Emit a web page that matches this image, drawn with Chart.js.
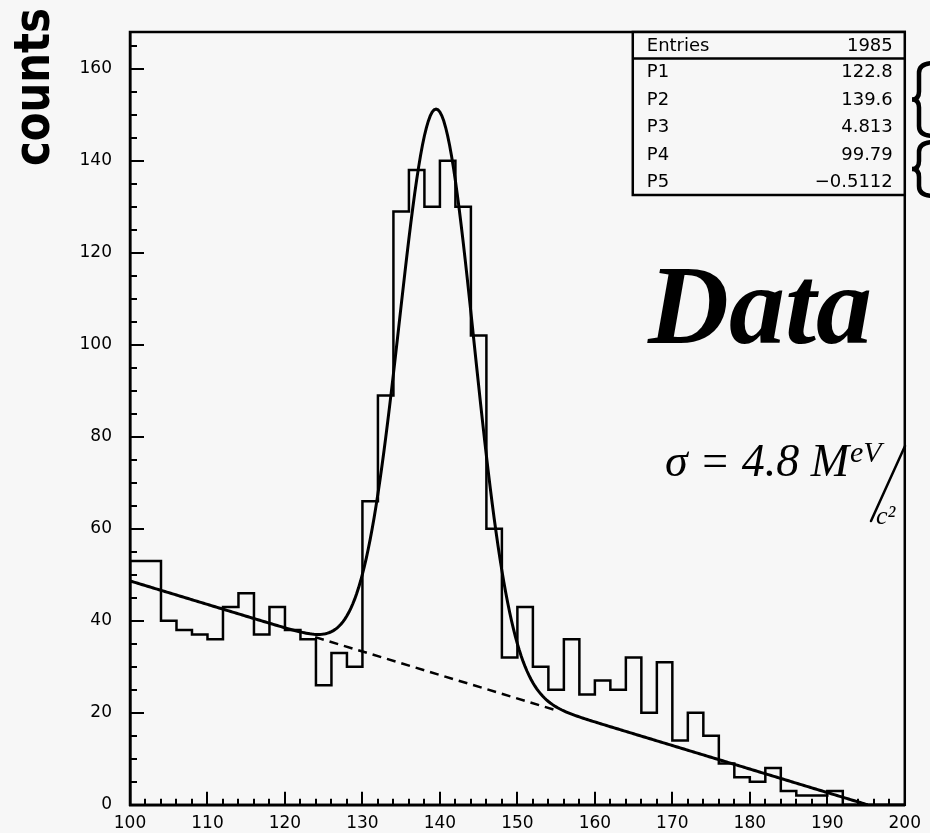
<!DOCTYPE html>
<html>
<head>
<meta charset="utf-8">
<script src="https://cdn.jsdelivr.net/npm/chart.js@4.4.1/dist/chart.umd.min.js"></script>
<style>
  html, body { margin: 0; padding: 0; background: #f7f7f7; }
  canvas { display: block; }
</style>
</head>
<body>
<canvas id="c" width="930" height="833"></canvas>
<script>
// Histogram: lower bin edges (2 units wide) and counts per bin
const binEdges = [100, 102, 104, 106, 108, 110, 112, 114, 116, 118,
                  120, 122, 124, 126, 128, 130, 132, 134, 136, 138,
                  140, 142, 144, 146, 148, 150, 152, 154, 156, 158,
                  160, 162, 164, 166, 168, 170, 172, 174, 176, 178,
                  180, 182, 184, 186, 188, 190, 192, 194, 196, 198];
const binCounts = [53, 53, 40, 38, 37, 36, 43, 46, 37, 43,
                   38, 36, 26, 33, 30, 66, 89, 129, 138, 130,
                   140, 130, 102, 60, 32, 43, 30, 25, 36, 24,
                   27, 25, 32, 20, 31, 14, 20, 15, 9, 6,
                   5, 8, 3, 2, 2, 3, 0, 0, 0, 0];
const histUpperEdge = 200;

// Fit: Gaussian (P1 amplitude, P2 mean, P3 sigma) + linear background (P4 + P5*x)
const fitNames = ['P1', 'P2', 'P3', 'P4', 'P5'];
const fitParams = [122.8, 139.6, 4.813, 99.79, -0.5112];
// range over which the background alone is drawn dashed
const bgDashedRange = [123.9, 155.3];

// Axis tick labels
const xTickValues = [100, 110, 120, 130, 140, 150, 160, 170, 180, 190, 200];
const yTickValues = [0, 20, 40, 60, 80, 100, 120, 140, 160];

// ---- build datasets ----
// each point holds the bin's lower edge; the step is drawn horizontally up to the next edge
const histPoints = [{ x: binEdges[0], y: 0 }];
binEdges.forEach((e, i) => {
  const next = i + 1 < binEdges.length ? binEdges[i + 1] : histUpperEdge;
  histPoints.push({ x: next, y: binCounts[i] });
});

const [p1, p2, p3, p4, p5] = fitParams;
const background = x => p4 + p5 * x;
const fitFunc = x => p1 * Math.exp(-0.5 * Math.pow((x - p2) / p3, 2)) + background(x);
const bgZero = -p4 / p5;

const fitPoints = [];
for (let x = 100; x < bgZero; x += 0.25) fitPoints.push({ x: x, y: fitFunc(x) });
fitPoints.push({ x: bgZero, y: Math.max(0, fitFunc(bgZero)) });

const bgPoints = bgDashedRange.map(x => ({ x: x, y: background(x) }));

const entries = binCounts.reduce((a, b) => a + b, 0);
const statNames = ['Entries'].concat(fitNames);
const statValues = [String(entries)].concat(fitParams.map(v => String(v).replace('-', '\u2212')));

const TICK_FONT = { family: "'DejaVu Sans', sans-serif", size: 17 };

// Frame, inward ticks, statistics box and hand annotations
const decor = {
  id: 'decor',
  afterDraw(chart) {
    const { ctx, chartArea: a, scales: { x, y } } = chart;
    ctx.save();
    ctx.strokeStyle = '#000';
    ctx.fillStyle = '#000';

    // frame
    ctx.lineWidth = 2.5;
    ctx.strokeRect(a.left, a.top, a.right - a.left, a.bottom - a.top);

    // inward ticks
    ctx.lineWidth = 2;
    ctx.beginPath();
    for (let v = 100; v <= 200; v += 2) {
      const px = Math.round(x.getPixelForValue(v));
      const len = v % 10 === 0 ? 13 : 6;
      ctx.moveTo(px, a.bottom);
      ctx.lineTo(px, a.bottom - len);
    }
    for (let v = 0; v <= 165; v += 5) {
      const py = Math.round(y.getPixelForValue(v));
      const len = v % 20 === 0 ? 14 : 7;
      ctx.moveTo(a.left, py);
      ctx.lineTo(a.left + len, py);
    }
    ctx.stroke();

    // statistics box
    const bx = a.right - 272, by = a.top, bw = 272, rowH = 27.4;
    const bh = 26 + rowH * 5;
    ctx.fillStyle = '#f7f7f7';
    ctx.fillRect(bx, by, bw, bh);
    ctx.fillStyle = '#000';
    ctx.lineWidth = 2.5;
    ctx.strokeRect(bx, by, bw, bh);
    ctx.beginPath();
    ctx.moveTo(bx, by + 26.5);
    ctx.lineTo(bx + bw, by + 26.5);
    ctx.stroke();
    ctx.font = "18px 'DejaVu Sans', sans-serif";
    ctx.textBaseline = 'middle';
    statNames.forEach((n, i) => {
      const cy = i === 0 ? by + 14 : by + 26 + rowH * (i - 0.5) + 1;
      ctx.textAlign = 'left';
      ctx.fillText(n, bx + 14, cy);
      ctx.textAlign = 'right';
      ctx.fillText(statValues[i], bx + bw - 12, cy);
    });

    // braces beside the box
    ctx.lineWidth = 4.5;
    ctx.lineCap = 'round';
    const brace = (top, bottom) => {
      const mid = (top + bottom) / 2;
      ctx.beginPath();
      ctx.moveTo(934, top);
      ctx.quadraticCurveTo(919, top, 919, top + 10);
      ctx.lineTo(919, mid - 8);
      ctx.quadraticCurveTo(919, mid, 912, mid);
      ctx.quadraticCurveTo(919, mid, 919, mid + 8);
      ctx.lineTo(919, bottom - 10);
      ctx.quadraticCurveTo(919, bottom, 934, bottom);
      ctx.stroke();
    };
    brace(63, 136);
    brace(142, 196);

    // y axis title
    ctx.save();
    ctx.translate(49, 166);
    ctx.rotate(-Math.PI / 2);
    ctx.textAlign = 'left';
    ctx.textBaseline = 'alphabetic';
    ctx.font = "bold 50px 'DejaVu Sans', sans-serif";
    ctx.fillText('counts', 0, 0, 158);
    ctx.restore();

    // annotations
    ctx.textAlign = 'left';
    ctx.textBaseline = 'alphabetic';
    ctx.font = "italic bold 112px 'Liberation Serif', serif";
    ctx.fillText('Data', 648, 343, 224);

    ctx.font = "italic 46px 'Liberation Serif', serif";
    ctx.fillText('\u03c3 = 4.8 M', 665, 476, 186);
    ctx.font = "italic 30px 'Liberation Serif', serif";
    ctx.fillText('eV', 850, 462);
    ctx.lineWidth = 2.5;
    ctx.beginPath();
    ctx.moveTo(905, 446);
    ctx.lineTo(871, 521);
    ctx.stroke();
    ctx.font = "italic 26px 'Liberation Serif', serif";
    ctx.fillText('c\u00b2', 876, 524);

    ctx.restore();
  }
};

new Chart(document.getElementById('c'), {
  type: 'line',
  data: {
    datasets: [
      { label: 'counts', data: histPoints, stepped: 'after', borderColor: '#000',
        borderWidth: 2.5, pointRadius: 0, fill: false },
      { label: 'fit', data: fitPoints, borderColor: '#000', borderWidth: 3,
        pointRadius: 0, tension: 0, fill: false },
      { label: 'background', data: bgPoints, borderColor: '#000', borderWidth: 2.5,
        borderDash: [9, 6], pointRadius: 0, fill: false }
    ]
  },
  options: {
    responsive: false,
    animation: false,
    devicePixelRatio: 1,
    layout: { padding: { top: 32, right: 23, left: 0, bottom: 0 } },
    plugins: { legend: { display: false }, tooltip: { enabled: false } },
    scales: {
      x: {
        type: 'linear', min: 100, max: 200,
        afterBuildTicks: s => { s.ticks = xTickValues.map(v => ({ value: v })); },
        afterFit: s => { s.height = 28; },
        ticks: { autoSkip: false, maxRotation: 0, color: '#000', font: TICK_FONT, padding: 9 },
        grid: { drawOnChartArea: false, drawTicks: false },
        border: { display: true, color: '#000', width: 2.5 }
      },
      y: {
        type: 'linear', min: 0, max: 168,
        afterBuildTicks: s => { s.ticks = yTickValues.map(v => ({ value: v })); },
        afterFit: s => { s.width = 130; },
        ticks: { color: '#000', font: TICK_FONT, padding: 18 },
        grid: { drawOnChartArea: false, drawTicks: false },
        border: { display: true, color: '#000', width: 2.5 }
      }
    }
  },
  plugins: [decor]
});
</script>
</body>
</html>
